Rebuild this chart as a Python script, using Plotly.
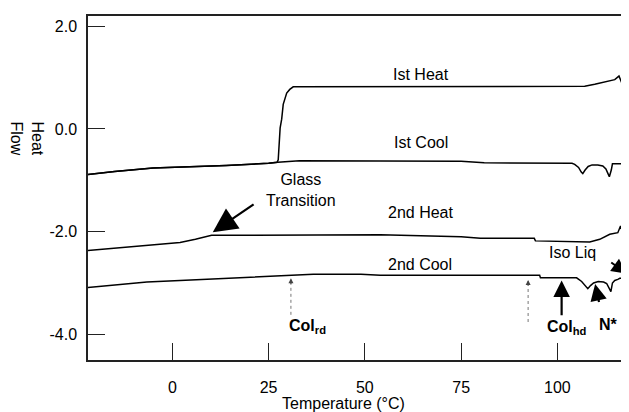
import plotly.graph_objects as go

# ---- data (Temperature in °C, heat flow) ----
heat1_T = [-22, -15, -5, 5, 14, 25, 27.2, 27.5, 27.8, 28.0, 28.4, 28.8, 29.7, 30.5, 31.4, 33, 60, 90,
           107.1, 109.7, 112.8, 114.9, 116.0, 116.7, 117.5, 118.6]
heat1_HF = [-0.89, -0.83, -0.76, -0.74, -0.71, -0.67, -0.65, -0.60, -0.20, 0.02, 0.19, 0.48, 0.70, 0.77, 0.82,
            0.82, 0.82, 0.82, 0.83, 0.87, 0.93, 0.96, 1.03, 0.90, 0.83, 0.83]

cool1_T = [-22, -15, -5, 5, 14, 25, 27.4, 33, 54, 75, 81, 103.8, 104.5, 105.5, 106.2, 106.6, 107.2, 108.0,
           109.0, 110.5, 111.8, 112.6, 113.2, 113.5, 114.0, 114.3, 118.6]
cool1_HF = [-0.89, -0.83, -0.76, -0.74, -0.71, -0.67, -0.65, -0.62, -0.62, -0.63, -0.66, -0.67, -0.69, -0.75,
            -0.84, -0.87, -0.80, -0.73, -0.70, -0.70, -0.72, -0.78, -0.88, -0.93, -0.80, -0.68, -0.68]

heat2_T = [-22, -15, -6.6, 2, 6, 10.2, 15, 24.5, 54, 75, 80, 92, 94, 94.3, 107, 108.4, 111, 113.6, 115.7,
           116.4, 117.1, 118.6]
heat2_HF = [-2.37, -2.32, -2.27, -2.21, -2.15, -2.07, -2.07, -2.07, -2.06, -2.10, -2.13, -2.13, -2.13, -2.18,
            -2.19, -2.20, -2.15, -2.05, -2.02, -1.89, -2.05, -2.07]

cool2_T = [-22, -6.6, 2, 10.6, 28, 36.6, 49, 54, 80, 95.4, 95.6, 105, 106.3, 107.2, 107.9, 108.6, 109.4,
           110.6, 112.0, 112.8, 113.5, 113.9, 114.3, 114.9, 115.7, 116.2, 118.6]
cool2_HF = [-3.09, -2.98, -2.95, -2.92, -2.87, -2.83, -2.83, -2.85, -2.85, -2.85, -2.90, -2.90, -2.97, -3.05,
            -3.11, -3.05, -3.00, -2.97, -2.98, -3.01, -3.10, -3.17, -3.00, -2.95, -2.93, -2.91, -2.91]

x_ticks = [0, 25, 50, 75, 100]
y_ticks = [2.0, 0.0, -2.0, -4.0]
y_tick_labels = ["2.0", "0.0", "-2.0", "-4.0"]

FONT = "Liberation Sans, Arial, Helvetica, sans-serif"

fig = go.Figure()
for T, HF in [(heat1_T, heat1_HF), (cool1_T, cool1_HF), (heat2_T, heat2_HF), (cool2_T, cool2_HF)]:
    fig.add_trace(go.Scatter(x=T, y=HF, mode="lines", line=dict(color="black", width=1.5),
                             showlegend=False, hoverinfo="skip"))

ann = []
def text(x, y, t, size=16, bold=False):
    ann.append(dict(x=x, y=y, xref="x", yref="y", text=(f"<b>{t}</b>" if bold else t), showarrow=False,
                    xanchor="center", yanchor="middle", font=dict(family=FONT, size=size, color="black")))

def arrow(x, y, ax, ay, width=2.2, size=1.6, color="black"):
    ann.append(dict(x=x, y=y, ax=ax, ay=ay, xref="x", yref="y", axref="x", ayref="y", text="",
                    showarrow=True, arrowhead=2, arrowsize=size, arrowwidth=width, arrowcolor=color,
                    standoff=0, startstandoff=0))

text(64.7, 1.06, "Ist Heat")
text(64.5, -0.27, "Ist Cool")
text(64.4, -1.63, "2nd Heat")
text(64.4, -2.64, "2nd Cool")
text(33.4, -1.18, "Glass<br>Transition")
text(103.9, -2.40, "Iso Liq")
text(35.1, -3.85, "Col<sub>rd</sub>", bold=True)
text(102.5, -3.86, "Col<sub>hd</sub>", bold=True)
text(113.4, -3.80, "N*", bold=True)

arrow(10.5, -2.01, 21.5, -1.45, width=2.2, size=2.2)
arrow(101.1, -2.95, 101.1, -3.66, width=2.2, size=1.5)
arrow(109.8, -3.02, 110.9, -3.40, width=2.2, size=1.5)
arrow(118.0, -2.82, 113.6, -2.58, width=2.0, size=1.5)

shapes = []
for xd, y0, y1 in [(30.8, -3.62, -2.93), (92.4, -3.76, -2.96)]:
    shapes.append(dict(type="line", xref="x", yref="y", x0=xd, x1=xd, y0=y0, y1=y1,
                       line=dict(color="#777777", width=1, dash="dot")))
    ann.append(dict(x=xd, y=y1 + 0.02, ax=0, ay=7, xref="x", yref="y", text="", showarrow=True,
                    arrowhead=2, arrowsize=1, arrowwidth=1, arrowcolor="#444444", standoff=0))

# plot area: page pixels 88..629 (x) and 15..359 (y); the page has an 8px body margin
PL, PR, PT, PB = 80, 621, 8, 352
W, H = 629, 412
pw, ph = PR - PL, PB - PT

def px_to_paper(xp, yp):
    # xp, yp in page pixels
    return ((xp - 8) - PL) / pw, (PB - (yp - 8)) / ph

hx, hy = px_to_paper(26.5, 138)
ann.append(dict(x=hx, y=hy, xref="paper", yref="paper", text="Heat<br>Flow", textangle=90,
                showarrow=False, align="left", xanchor="center", yanchor="middle",
                font=dict(family=FONT, size=16, color="black")))
tx, ty = px_to_paper(343, 403)
ann.append(dict(x=tx, y=ty, xref="paper", yref="paper", text="Temperature (°C)", showarrow=False,
                xanchor="center", yanchor="middle", font=dict(family=FONT, size=16, color="black")))

fig.update_layout(
    width=W, height=H,
    margin=dict(l=PL, r=W - PR, t=PT, b=H - PB, autoexpand=False),
    paper_bgcolor="white", plot_bgcolor="white",
    font=dict(family=FONT, size=16, color="black"),
    annotations=ann, shapes=shapes,
    xaxis=dict(range=[-21.9, 118.6], tickvals=x_ticks, ticks="inside", ticklen=17, tickwidth=1.2,
               tickcolor="#222", showline=True, linecolor="#222", linewidth=1.5, mirror=True,
               showgrid=False, zeroline=False, ticklabelstandoff=12,
               tickfont=dict(family=FONT, size=16, color="black")),
    yaxis=dict(range=[-4.5, 2.2], tickvals=y_ticks, ticktext=y_tick_labels, ticks="inside", ticklen=17,
               tickwidth=1.2, tickcolor="#222", showline=True, linecolor="#222", linewidth=1.5,
               showgrid=False, zeroline=False, ticklabelstandoff=6,
               tickfont=dict(family=FONT, size=16, color="black")),
)

fig.write_html("out.html")
